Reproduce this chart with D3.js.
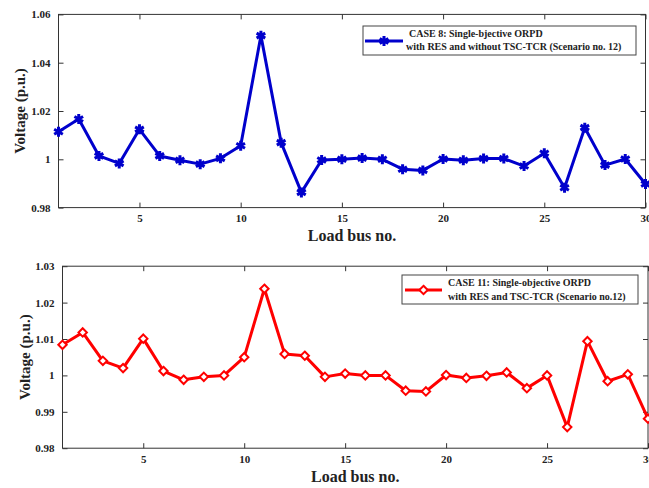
<!DOCTYPE html>
<html>
<head>
<meta charset="utf-8">
<script src="https://cdn.jsdelivr.net/npm/d3@7"></script>
<style>
  html, body { margin: 0; padding: 0; background: #fff; }
  svg { display: block; }
  text { font-family: "Liberation Serif", "Times New Roman", serif; font-weight: bold; fill: #222; }
</style>
</head>
<body>
<svg id="chart" width="649" height="488"></svg>
<script>
// ---- data ----
const buses = d3.range(1, 31);
const case8Voltage = [1.0114, 1.0167, 1.0014, 0.9983, 1.0124, 1.0014, 0.9996, 0.9980, 1.0004, 1.0056,
                      1.0512, 1.0069, 0.9863, 0.9997, 1.0000, 1.0005, 1.0000, 0.9959, 0.9954, 1.0001,
                      0.9996, 1.0003, 1.0003, 0.9972, 1.0025, 0.9882, 1.0131, 0.9976, 1.0001, 0.9898];
const case11Voltage = [1.0084, 1.0118, 1.0040, 1.0020, 1.0101, 1.0012, 0.9988, 0.9996, 1.0000, 1.0050,
                       1.0238, 1.0059, 1.0054, 0.9996, 1.0005, 1.0000, 1.0000, 0.9958, 0.9956, 1.0001,
                       0.9993, 0.9999, 1.0008, 0.9965, 1.0000, 0.9858, 1.0094, 0.9984, 1.0003, 0.9881];
const xTicks = [5, 10, 15, 20, 25, 30];
const topYTicks = [0.98, 1.00, 1.02, 1.04, 1.06];
const topYTickLabels = ["0.98", "1", "1.02", "1.04", "1.06"];
const bottomYTicks = [0.98, 0.99, 1.00, 1.01, 1.02, 1.03];
const bottomYTickLabels = ["0.98", "0.99", "1", "1.01", "1.02", "1.03"];
const xLabel = "Load bus no.";
const yLabel = "Voltage (p.u.)";
const case8Legend = ["CASE 8: Single-bjective ORPD", "with RES and without TSC-TCR (Scenario no. 12)"];
const case11Legend = ["CASE 11: Single-objective ORPD", "with RES and TSC-TCR (Scenario no.12)"];

const svg = d3.select("#chart");

function panel(cfg) {
  const g = svg.append("g");
  const x = d3.scaleLinear().domain([1, 30]).range([cfg.x0, cfg.x1]);
  const y = d3.scaleLinear().domain(cfg.yDomain).range([cfg.y1, cfg.y0]);

  // box
  g.append("rect").attr("x", cfg.x0).attr("y", cfg.y0)
    .attr("width", cfg.x1 - cfg.x0).attr("height", cfg.y1 - cfg.y0)
    .attr("fill", "#fff").attr("stroke", "#333").attr("stroke-width", 1);

  const styleAxis = sel => {
    sel.select(".domain").remove();
    sel.selectAll("line").attr("stroke", "#333");
    sel.selectAll("text").attr("font-size", 11).attr("fill", "#222")
      .style("font-family", '"Liberation Serif", serif').style("font-weight", "bold");
  };

  g.append("g").attr("transform", `translate(0,${cfg.y1})`)
    .call(d3.axisBottom(x).tickValues(xTicks).tickSizeInner(-5).tickSizeOuter(0).tickPadding(7).tickFormat(d3.format("d")))
    .call(styleAxis);
  g.append("g").attr("transform", `translate(0,${cfg.y0})`)
    .call(d3.axisTop(x).tickValues(xTicks).tickSizeInner(-5).tickSizeOuter(0).tickFormat(""))
    .call(styleAxis);
  g.append("g").attr("transform", `translate(${cfg.x0},0)`)
    .call(d3.axisLeft(y).tickValues(cfg.yTicks).tickSizeInner(-5).tickSizeOuter(0).tickPadding(8)
      .tickFormat((d, i) => cfg.yTickLabels[i]))
    .call(styleAxis);
  g.append("g").attr("transform", `translate(${cfg.x1},0)`)
    .call(d3.axisRight(y).tickValues(cfg.yTicks).tickSizeInner(-5).tickSizeOuter(0).tickFormat(""))
    .call(styleAxis);

  // line
  const line = d3.line().x((d, i) => x(buses[i])).y(d => y(d));
  g.append("path").datum(cfg.values).attr("d", line)
    .attr("fill", "none").attr("stroke", cfg.color).attr("stroke-width", 3).attr("stroke-linejoin", "round");

  const sym = d3.symbol().type(cfg.symbol).size(cfg.symSize);
  g.selectAll(".mk").data(cfg.values).join("path")
    .attr("transform", (d, i) => `translate(${x(buses[i])},${y(d)})`)
    .attr("d", sym)
    .attr("fill", cfg.symFill).attr("stroke", cfg.color).attr("stroke-width", cfg.symStroke);

  // axis labels
  g.append("text").attr("x", (cfg.x0 + cfg.x1) / 2).attr("y", cfg.xLabelY)
    .attr("text-anchor", "middle").attr("font-size", 16).text(xLabel);
  g.append("text").attr("transform", `translate(${cfg.yLabelX},${(cfg.y0 + cfg.y1) / 2}) rotate(-90)`)
    .attr("text-anchor", "middle").attr("font-size", 15).text(yLabel);

  // legend
  const L = cfg.legend;
  g.append("rect").attr("x", L.x).attr("y", L.y).attr("width", L.w).attr("height", L.h)
    .attr("fill", "#fff").attr("stroke", "#444").attr("stroke-width", 1);
  g.append("line").attr("x1", L.lx0).attr("x2", L.lx1).attr("y1", L.ly).attr("y2", L.ly)
    .attr("stroke", cfg.color).attr("stroke-width", 3);
  g.append("path").attr("transform", `translate(${(L.lx0 + L.lx1) / 2},${L.ly})`).attr("d", sym)
    .attr("fill", cfg.symFill).attr("stroke", cfg.color).attr("stroke-width", cfg.symStroke);
  cfg.legendText.forEach((t, i) => {
    g.append("text").attr("x", L.tx[i]).attr("y", L.ty[i]).attr("font-size", 10).text(t);
  });
}

panel({
  x0: 58.5, x1: 645.5, y0: 14.4, y1: 207.6,
  yDomain: [0.98, 1.06], yTicks: topYTicks, yTickLabels: topYTickLabels,
  values: case8Voltage, color: "#0000cc",
  symbol: d3.symbolAsterisk, symSize: 70, symFill: "#0000cc", symStroke: 3,
  xLabelY: 241, yLabelX: 25,
  legend: { x: 363, y: 26, w: 273, h: 29, lx0: 365, lx1: 403, ly: 41, tx: [409, 406], ty: [37, 50] },
  legendText: case8Legend
});

panel({
  x0: 62.5, x1: 648, y0: 266.2, y1: 448.2,
  yDomain: [0.98, 1.03], yTicks: bottomYTicks, yTickLabels: bottomYTickLabels,
  values: case11Voltage, color: "#ff0000",
  symbol: d3.symbolDiamond2, symSize: 45, symFill: "#fff", symStroke: 2,
  xLabelY: 482, yLabelX: 30,
  legend: { x: 402, y: 275, w: 236, h: 29, lx0: 405, lx1: 442, ly: 290, tx: [448, 448], ty: [286, 300] },
  legendText: case11Legend
});
</script>
</body>
</html>
